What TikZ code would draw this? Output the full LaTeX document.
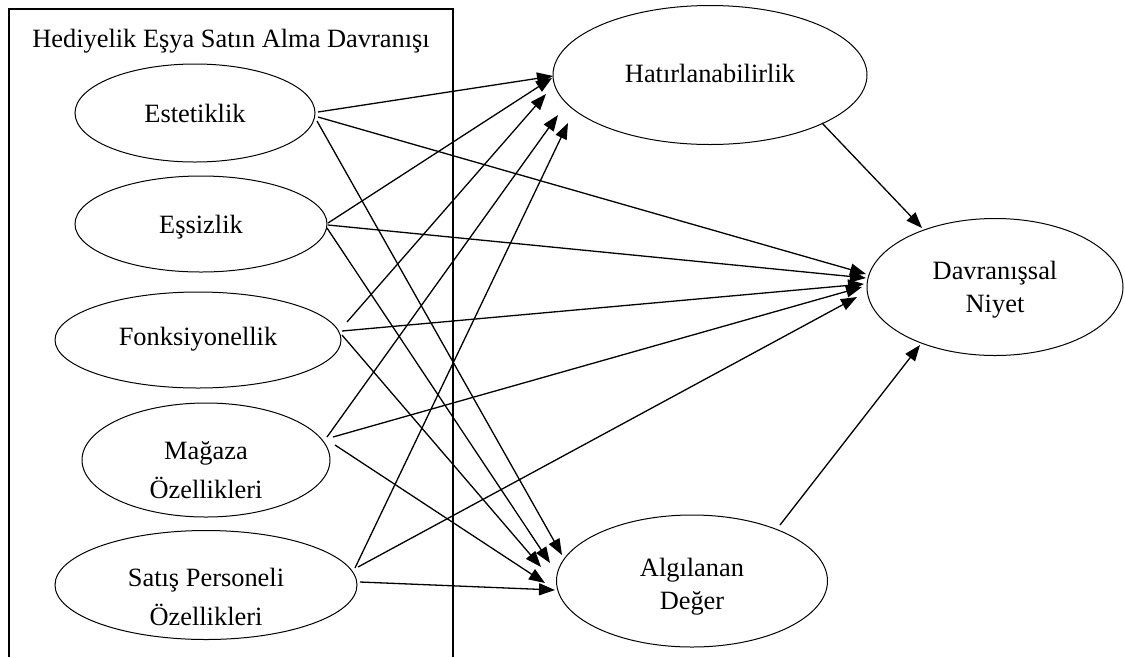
\documentclass[tikz,border=0pt]{standalone}
\usepackage{fontspec}
\setmainfont{Liberation Serif}
\usetikzlibrary{shapes.geometric,arrows.meta,calc}
\begin{document}
\begin{tikzpicture}[x=1pt,y=-1pt,
  oval/.style={ellipse, draw, line width=1pt, inner sep=0pt, outer sep=0pt},
  lbl/.style={anchor=base, inner sep=0pt, font=\fontsize{26.4}{35}\selectfont},
  conn/.style={line width=1.3pt, -{Triangle[length=16pt,width=12pt]}},
  frame/.style={line width=1.3pt}]
\useasboundingbox (0,0) rectangle (1125,657);
\fill[white] (0,0) rectangle (1125,657);
% frame
\draw[frame] (9,657) -- (9,9) -- (453,9) -- (453,657);
\node[lbl] (title) at (231,47) {Hediyelik Eşya Satın Alma Davranışı};
% left ellipses
\node[oval, minimum width=240pt, minimum height=98pt,
  label={[lbl]center:Estetiklik}] (est) at (195,113) {};
\node[oval, minimum width=252pt, minimum height=96pt,
  label={[lbl,yshift=-3pt]center:Eşsizlik}] (ess) at (201,224) {};
\node[oval, minimum width=286pt, minimum height=96pt,
  label={[lbl,yshift=1pt]center:Fonksiyonellik}] (fon) at (198,340) {};
\node[oval, minimum width=248pt, minimum height=114pt,
  label={[lbl,yshift=7pt]center:Mağaza},
  label={[lbl,yshift=-28pt]center:Özellikleri}] (mag) at (206,460) {};
\node[oval, minimum width=302pt, minimum height=109pt,
  label={[lbl,yshift=5pt]center:Satış Personeli},
  label={[lbl,yshift=-30pt]center:Özellikleri}] (sat) at (206,585) {};
% right ellipses
\node[oval, minimum width=314pt, minimum height=139pt,
  label={[lbl,yshift=2pt]center:Hatırlanabilirlik}] (hat) at (710,75) {};
\node[oval, minimum width=256pt, minimum height=137pt,
  label={[lbl,yshift=14pt]center:Davranışsal},
  label={[lbl,yshift=-20pt]center:Niyet}] (dn) at (995,287) {};
\node[oval, minimum width=271pt, minimum height=132pt,
  label={[lbl,yshift=11pt]center:Algılanan},
  label={[lbl,yshift=-22pt]center:Değer}] (ad) at (692,581) {};
% Estetiklik
\draw[conn] ($(est.center)+(123,-1)$) -- ($(hat.center)+(-157,1)$);
\draw[conn] ($(est.center)+(123,4)$) -- ($(dn.center)+(-129,-13)$);
\draw[conn] ($(est.center)+(122,8)$) -- ($(ad.center)+(-130,-26)$);
% Essizlik
\draw[conn] ($(ess.center)+(127,-1)$) -- ($(hat.center)+(-158,3)$);
\draw[conn] ($(ess.center)+(127,1)$) -- ($(dn.center)+(-129,-9)$);
\draw[conn] ($(ess.center)+(126,4)$) -- ($(ad.center)+(-142,-18)$);
% Fonksiyonellik
\draw[conn] ($(fon.center)+(149,-18)$) -- ($(hat.center)+(-164,19)$);
\draw[conn] ($(fon.center)+(144,-9)$) -- ($(dn.center)+(-131,-3)$);
\draw[conn] ($(fon.center)+(144,-5)$) -- ($(ad.center)+(-151,-14)$);
% Magaza
\draw[conn] ($(mag.center)+(121,-23)$) -- ($(hat.center)+(-152,40)$);
\draw[conn] ($(mag.center)+(127,-23)$) -- ($(dn.center)+(-133,0)$);
\draw[conn] ($(mag.center)+(129,-15)$) -- ($(ad.center)+(-147,2)$);
% Satis
\draw[conn] ($(sat.center)+(149,-17)$) -- ($(hat.center)+(-142,48)$);
\draw[conn] ($(sat.center)+(152,-18)$) -- ($(dn.center)+(-138,10)$);
\draw[conn] ($(sat.center)+(154,-3)$) -- ($(ad.center)+(-137,9)$);
% to DN
\draw[conn] ($(hat.center)+(112,48)$) -- ($(dn.center)+(-73,-59)$);
\draw[conn] ($(ad.center)+(88,-56)$) -- ($(dn.center)+(-75,58)$);
\end{tikzpicture}
\end{document}
